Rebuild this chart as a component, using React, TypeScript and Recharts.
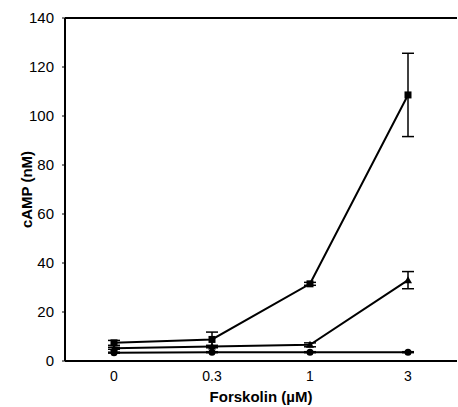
import {
  CartesianGrid,
  ErrorBar,
  Line,
  LineChart,
  ReferenceLine,
  XAxis,
  YAxis,
} from "recharts";

const doses = ["0", "0.3", "1", "3"];
const squareMean = [7.4, 8.8, 31.5, 108.6];
const squareErr = [1, 3, 0.6, 17];
const triangleMean = [5.2, 5.9, 6.6, 33];
const triangleErr = [0.4, 0.5, 0.8, 3.5];
const circleMean = [3.4, 3.6, 3.6, 3.6];
const circleErr = [0.2, 0.2, 0.2, 0.2];
const yTicks = [0, 20, 40, 60, 80, 100, 120, 140];

const data = doses.map((dose, i) => ({
  dose,
  sq: squareMean[i],
  sqErr: squareErr[i],
  tri: triangleMean[i],
  triErr: triangleErr[i],
  circ: circleMean[i],
  circErr: circleErr[i],
}));

const FONT = '"Liberation Sans", Arial, sans-serif';

const SquareDot = (props: any) => {
  const { cx, cy, index } = props;
  return <rect key={`sq-${index}`} x={cx - 3.5} y={cy - 3.5} width={7} height={7} fill="#000" />;
};

const TriangleDot = (props: any) => {
  const { cx, cy, index } = props;
  return (
    <polygon
      key={`tri-${index}`}
      points={`${cx},${cy - 4} ${cx - 4},${cy + 3} ${cx + 4},${cy + 3}`}
      fill="#000"
    />
  );
};

const CircleDot = (props: any) => {
  const { cx, cy, index } = props;
  return <circle key={`ci-${index}`} cx={cx} cy={cy} r={3.5} fill="#000" />;
};

export default function App() {
  return (
    <div style={{ position: "absolute", left: 0, top: 0, background: "#fff" }}>
      <LineChart
        width={458}
        height={407}
        data={data}
        margin={{ top: 18, right: 1, bottom: 0, left: 0 }}
        style={{ fontFamily: FONT }}
      >
        <CartesianGrid
          vertical={false}
          stroke="#888"
          strokeDasharray="1 2"
          horizontalValues={[20, 40, 60, 80, 100, 120]}
        />
        <XAxis
          dataKey="dose"
          padding={{ left: 49, right: 49 }}
          height={46}
          tickLine={false}
          axisLine={{ stroke: "#000", strokeWidth: 2 }}
          tick={{ fill: "#000", fontSize: 14 }}
          tickMargin={4}
          label={{
            value: "Forskolin (µM)",
            position: "insideBottom",
            offset: 5,
            fill: "#000",
            fontSize: 15,
            fontWeight: "bold",
          }}
        />
        <YAxis
          yAxisId="left"
          width={65}
          domain={[0, 140]}
          ticks={yTicks}
          interval={0}
          tickSize={3}
          tickLine={{ stroke: "#000" }}
          axisLine={{ stroke: "#000", strokeWidth: 2 }}
          tick={{ fill: "#000", fontSize: 15 }}
          tickMargin={8}
          label={{
            value: "cAMP (nM)",
            angle: -90,
            position: "insideLeft",
            offset: 27,
            style: { textAnchor: "middle" },
            fill: "#000",
            fontSize: 15,
            fontWeight: "bold",
          }}
        />
        <YAxis
          yAxisId="right"
          orientation="right"
          width={0}
          domain={[0, 140]}
          tick={false}
          tickLine={false}
          axisLine={{ stroke: "#999", strokeWidth: 1 }}
        />
        <ReferenceLine yAxisId="left" y={140} stroke="#000" strokeWidth={2} />
        <Line
          yAxisId="left"
          dataKey="circ"
          stroke="#000"
          strokeWidth={2}
          dot={CircleDot}
          activeDot={false}
          isAnimationActive={false}
        >
          <ErrorBar dataKey="circErr" width={6} stroke="#000" strokeWidth={1.5} isAnimationActive={false} />
        </Line>
        <Line
          yAxisId="left"
          dataKey="tri"
          stroke="#000"
          strokeWidth={2}
          dot={TriangleDot}
          activeDot={false}
          isAnimationActive={false}
        >
          <ErrorBar dataKey="triErr" width={6} stroke="#000" strokeWidth={1.5} isAnimationActive={false} />
        </Line>
        <Line
          yAxisId="left"
          dataKey="sq"
          stroke="#000"
          strokeWidth={2}
          dot={SquareDot}
          activeDot={false}
          isAnimationActive={false}
        >
          <ErrorBar dataKey="sqErr" width={6} stroke="#000" strokeWidth={1.5} isAnimationActive={false} />
        </Line>
      </LineChart>
    </div>
  );
}
